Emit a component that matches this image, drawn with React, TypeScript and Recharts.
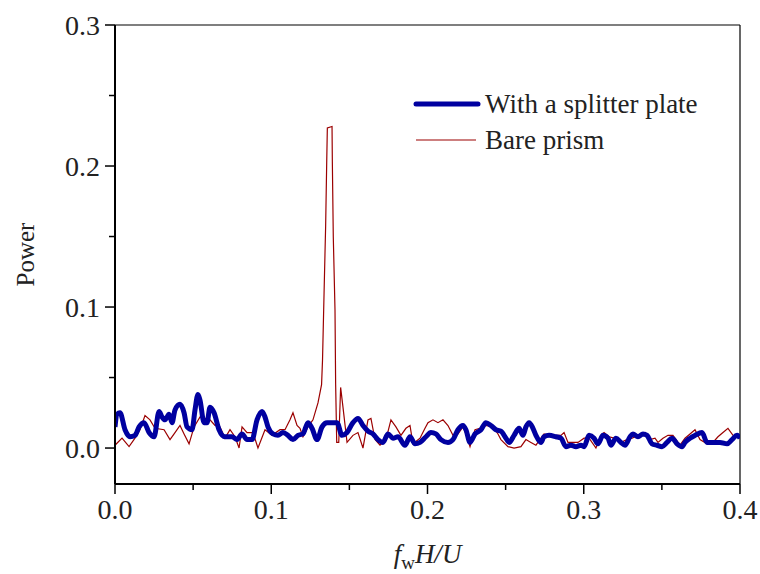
import { Legend, Line, LineChart, ReferenceLine, XAxis, YAxis } from 'recharts';

const BLUE = '#0000a0';
const RED = '#9b0000';
const FONT = '"Liberation Serif", "Times New Roman", serif';

// with a splitter plate
const SPLITTER_F = [
  0, 0.0013, 0.0032, 0.0064, 0.0096, 0.0128, 0.0154, 0.0186, 0.0218, 0.025, 0.0282, 0.0301, 0.032, 0.0346,
  0.0365, 0.0384, 0.0416, 0.0442, 0.0461, 0.0493, 0.0512, 0.0531, 0.0544, 0.057, 0.0589, 0.0608, 0.0634,
  0.0666, 0.0704, 0.0749, 0.0781, 0.0813, 0.0845, 0.0877, 0.0909, 0.0941, 0.096, 0.0979, 0.1011, 0.1043,
  0.1075, 0.1107, 0.1139, 0.1171, 0.1203, 0.1235, 0.1261, 0.1293, 0.1325, 0.1357, 0.1395, 0.1421, 0.1453,
  0.1485, 0.1523, 0.1555, 0.1587, 0.1619, 0.1651, 0.1683, 0.1715, 0.1747, 0.1779, 0.1811, 0.1856, 0.1888,
  0.192, 0.1952, 0.199, 0.2022, 0.2054, 0.2086, 0.2131, 0.2163, 0.2195, 0.2227, 0.2246, 0.2272, 0.2304,
  0.2342, 0.2374, 0.2406, 0.2438, 0.247, 0.2502, 0.2522, 0.2554, 0.2586, 0.2611, 0.263, 0.265, 0.2675,
  0.2694, 0.2726, 0.2746, 0.2778, 0.2822, 0.2854, 0.2886, 0.2918, 0.295, 0.2982, 0.3002, 0.3034, 0.3066,
  0.3091, 0.3123, 0.3155, 0.3174, 0.3206, 0.3238, 0.3264, 0.3296, 0.3315, 0.3347, 0.3379, 0.3405, 0.3437,
  0.3469, 0.3501, 0.3533, 0.3565, 0.3597, 0.3629, 0.3648, 0.368, 0.3712, 0.3757, 0.3789, 0.3827, 0.3872,
  0.3917, 0.3949, 0.3981, 0.4,
];
const SPLITTER_P = [
  0.015, 0.024, 0.025, 0.013, 0.008, 0.009, 0.015, 0.018, 0.011, 0.008, 0.026, 0.022, 0.02, 0.024,
  0.018, 0.027, 0.031, 0.025, 0.015, 0.013, 0.027, 0.038, 0.034, 0.018, 0.018, 0.029, 0.025,
  0.013, 0.008, 0.008, 0.006, 0.01, 0.006, 0.006, 0.02, 0.026, 0.022, 0.015, 0.01, 0.009,
  0.011, 0.009, 0.006, 0.009, 0.01, 0.018, 0.014, 0.006, 0.015, 0.018, 0.018, 0.018, 0.009,
  0.011, 0.018, 0.021, 0.016, 0.012, 0.01, 0.006, 0.004, 0.01, 0.007, 0.008, 0.002, 0.008,
  0.003, 0.004, 0.008, 0.011, 0.01, 0.006, 0.004, 0.006, 0.013, 0.016, 0.013, 0.004, 0.01,
  0.013, 0.018, 0.016, 0.013, 0.012, 0.007, 0.004, 0.009, 0.014, 0.009, 0.015, 0.018, 0.014,
  0.009, 0.004, 0.008, 0.009, 0.008, 0.007, 0.001, 0.002, 0.001, 0.002, 0.001, 0.009, 0.007,
  0.003, 0.009, 0.007, 0.002, 0.007, 0.004, 0.002, 0.008, 0.01, 0.008, 0.01, 0.009, 0.003,
  0.002, 0.001, 0.004, 0.007, 0.003, 0.001, 0.004, 0.007, 0.009, 0.011, 0.004, 0.004, 0.004,
  0.003, 0.006, 0.009, 0.007,
];

// bare prism
const BARE_F = [
  0, 0.0045, 0.009, 0.0128, 0.016, 0.0192, 0.0224, 0.0256, 0.0314, 0.0352, 0.0384, 0.0416, 0.0442, 0.0474,
  0.0506, 0.0544, 0.0576, 0.0608, 0.064, 0.0672, 0.0704, 0.0736, 0.0768, 0.0794, 0.0813, 0.0845, 0.0883,
  0.0915, 0.096, 0.1005, 0.1056, 0.1088, 0.112, 0.1139, 0.1165, 0.1184, 0.1203, 0.1235, 0.1267, 0.1299,
  0.1322, 0.1328, 0.1338, 0.1348, 0.1355, 0.1359, 0.1389, 0.1391, 0.1397, 0.1408, 0.1412, 0.1419, 0.1432,
  0.1444, 0.1459, 0.1485, 0.1523, 0.1555, 0.1587, 0.1619, 0.1638, 0.1664, 0.1696, 0.1734, 0.1766, 0.1798,
  0.183, 0.1862, 0.1888, 0.1907, 0.1952, 0.1984, 0.2003, 0.2035, 0.2067, 0.2099, 0.2131, 0.2163, 0.2195,
  0.2227, 0.2246, 0.2272, 0.2304, 0.2336, 0.2374, 0.2419, 0.2451, 0.247, 0.2515, 0.2554, 0.2598, 0.263,
  0.2662, 0.2694, 0.2726, 0.2746, 0.2778, 0.2822, 0.2854, 0.2874, 0.2899, 0.2931, 0.2963, 0.3002, 0.3034,
  0.3078, 0.311, 0.313, 0.3162, 0.3194, 0.3238, 0.3277, 0.3309, 0.3347, 0.3392, 0.3424, 0.3456, 0.3475,
  0.3507, 0.3539, 0.3571, 0.3616, 0.3648, 0.368, 0.3712, 0.3744, 0.3789, 0.3827, 0.3859, 0.3891, 0.3923,
  0.3955, 0.3987, 0.4,
];
const BARE_P = [
  0.002, 0.007, 0.001, 0.007, 0.013, 0.023, 0.02, 0.014, 0.013, 0.006, 0.011, 0.016, 0.01, 0.003,
  0.015, 0.022, 0.021, 0.02, 0.016, 0.015, 0.007, 0.013, 0.008, 0.0, 0.015, 0.011, 0.011,
  0.0, 0.013, 0.009, 0.013, 0.013, 0.02, 0.025, 0.016, 0.014, 0.008, 0.015, 0.02, 0.032,
  0.045, 0.062, 0.11, 0.157, 0.203, 0.227, 0.228, 0.203, 0.15, 0.098, 0.046, 0.004, 0.004,
  0.043, 0.029, 0.004, 0.009, 0.011, 0.0, 0.02, 0.021, 0.006, 0.002, 0.006, 0.02, 0.015,
  0.009, 0.014, 0.016, 0.003, 0.007, 0.014, 0.018, 0.02, 0.018, 0.02, 0.016, 0.009, 0.01,
  0.015, 0.01, 0.001, 0.013, 0.014, 0.016, 0.015, 0.01, 0.006, 0.001, 0.0, 0.001, 0.006,
  0.004, 0.002, 0.007, 0.01, 0.009, 0.009, 0.009, 0.011, 0.004, 0.004, 0.004, 0.007, 0.007,
  0.0, 0.009, 0.011, 0.008, 0.007, 0.004, 0.006, 0.007, 0.009, 0.011, 0.006, 0.007, 0.004,
  0.007, 0.009, 0.009, 0.002, 0.007, 0.01, 0.013, 0.006, 0.003, 0.004, 0.008, 0.011, 0.014,
  0.009, 0.008, 0.007,
];

const X_TICKS = [0, 0.05, 0.1, 0.15, 0.2, 0.25, 0.3, 0.35, 0.4];
const Y_TICKS = [0, 0.05, 0.1, 0.15, 0.2, 0.25, 0.3];

const splitterData = SPLITTER_F.map((f, i) => ({ f, p: SPLITTER_P[i] }));
const bareData = BARE_F.map((f, i) => ({ f, p: BARE_P[i] }));

const isMajor = (v: number) => Math.abs(v * 10 - Math.round(v * 10)) < 1e-6;

function YTick({ x, y, payload }: any) {
  const major = isMajor(payload.value);
  return (
    <g>
      <line x1={x} x2={x - (major ? 10 : 6)} y1={y} y2={y} stroke="#000" strokeWidth={1.5} />
      {major && (
        <text x={x - 15} y={y} textAnchor="end" dominantBaseline="central" fontFamily={FONT} fontSize={28} fill="#222">
          {payload.value.toFixed(1)}
        </text>
      )}
    </g>
  );
}

function XTick({ x, y, payload }: any) {
  const major = isMajor(payload.value);
  return (
    <g>
      <line x1={x} x2={x} y1={y} y2={y + (major ? 10 : 6)} stroke="#000" strokeWidth={1.5} />
      {major && (
        <text x={x} y={y + 35} textAnchor="middle" fontFamily={FONT} fontSize={28} fill="#222">
          {payload.value.toFixed(1)}
        </text>
      )}
    </g>
  );
}

function XTitle({ viewBox }: any) {
  const { x, y, width } = viewBox;
  return (
    <text x={x + width / 2} y={y + 79} textAnchor="middle" fontFamily={FONT} fontSize={27} fill="#222">
      <tspan fontStyle="italic">f</tspan>
      <tspan fontSize={19} dy={6}>w</tspan>
      <tspan fontStyle="italic" dy={-6}>H/U</tspan>
    </text>
  );
}

function YTitle({ viewBox }: any) {
  const { x, y, height } = viewBox;
  const cx = x + 25;
  const cy = y + height / 2;
  return (
    <text x={cx} y={cy} transform={`rotate(-90 ${cx} ${cy})`} textAnchor="middle" dominantBaseline="central"
      fontFamily={FONT} fontSize={25} fill="#222">
      Power
    </text>
  );
}

function LegendBox() {
  return (
    <svg width={330} height={72} style={{ display: 'block' }}>
      <line x1={8} x2={70} y1={16} y2={16} stroke={BLUE} strokeWidth={5} strokeLinecap="round" />
      <text x={77} y={16} dominantBaseline="central" fontFamily={FONT} fontSize={27} fill="#222">
        With a splitter plate
      </text>
      <line x1={8} x2={68} y1={52} y2={52} stroke={RED} strokeWidth={1.2} />
      <text x={77} y={52} dominantBaseline="central" fontFamily={FONT} fontSize={27} fill="#222">
        Bare prism
      </text>
    </svg>
  );
}

export default function App() {
  return (
    <div style={{ width: 760, height: 574, background: '#fff', position: 'relative' }}>
      <style>{'body{margin:0}'}</style>
      <LineChart width={760} height={574} margin={{ top: 25, right: 20, left: 0, bottom: 0 }}>
        <XAxis
          type="number"
          dataKey="f"
          domain={[0, 0.4]}
          ticks={X_TICKS}
          allowDataOverflow
          height={90}
          tickSize={0}
          tickMargin={0}
          tickLine={false}
          tick={<XTick />}
          axisLine={{ stroke: '#000', strokeWidth: 2 }}
          label={<XTitle />}
        />
        <YAxis
          type="number"
          dataKey="p"
          domain={[-0.0255, 0.3]}
          ticks={Y_TICKS}
          allowDataOverflow
          width={115}
          tickSize={0}
          tickMargin={0}
          tickLine={false}
          tick={<YTick />}
          axisLine={{ stroke: '#000', strokeWidth: 2 }}
          label={<YTitle />}
        />
        <ReferenceLine y={0.3} stroke="#000" strokeWidth={1.2} />
        <ReferenceLine x={0.4} stroke="#000" strokeWidth={1.2} />
        <Line
          data={bareData}
          dataKey="p"
          name="Bare prism"
          stroke={RED}
          strokeWidth={1.2}
          dot={false}
          isAnimationActive={false}
        />
        <Line
          data={splitterData}
          type="monotone"
          dataKey="p"
          name="With a splitter plate"
          stroke={BLUE}
          strokeWidth={5}
          strokeLinejoin="round"
          dot={false}
          isAnimationActive={false}
        />
        <Legend
          layout="vertical"
          align="center"
          verticalAlign="middle"
          content={<LegendBox />}
          wrapperStyle={{ position: 'absolute', left: 408, top: 88, width: 330, height: 72 }}
        />
      </LineChart>
    </div>
  );
}
